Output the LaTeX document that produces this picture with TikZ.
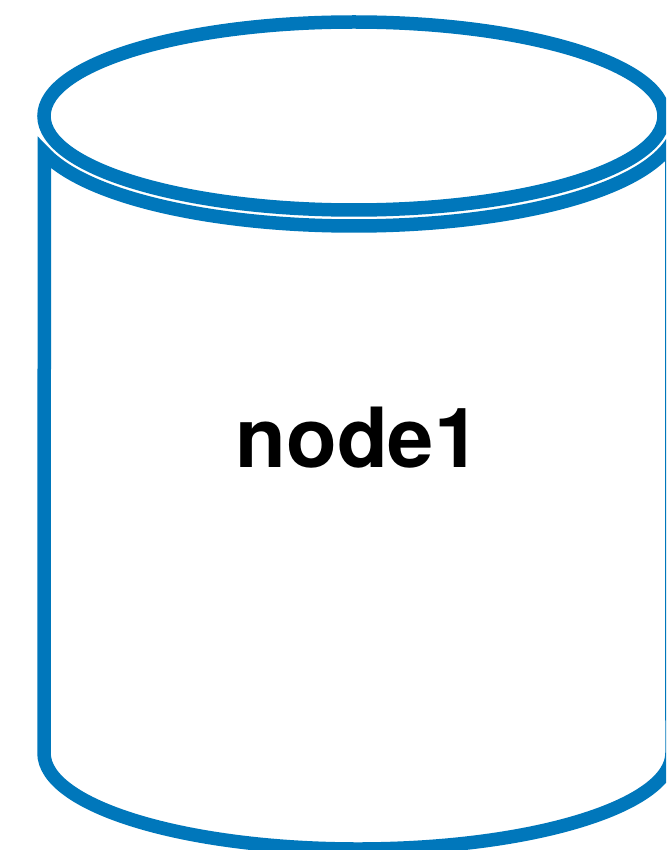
\documentclass[tikz,border=0pt]{standalone}
\usepackage{fontspec}
\setmainfont{TeX Gyre Heros}
\definecolor{dbblue}{RGB}{0,119,187}
\begin{document}
\begin{tikzpicture}[x=1pt,y=-1pt,
  shapeline/.style={draw=dbblue, fill=white, line width=13.5pt, line join=miter},
  labeltext/.style={font=\fontsize{83}{100}\selectfont\bfseries, text=black, inner sep=0pt, anchor=base},
  declare function={
    nn(\t)=sqrt(0.8836*cos(\t)*cos(\t)+9.61*sin(\t)*sin(\t));
    px(\t)=354+310*cos(\t)+15.04*cos(\t)/nn(\t);
    py(\t)=116+94*sin(\t)+49.6*sin(\t)/nn(\t);
  }]
\useasboundingbox (0,0) rectangle (666,850);
\clip (0,0) rectangle (666,850);
% body of the cylinder
\coordinate (bl) at (44,753);
\path[shapeline] plot[domain=11:164, samples=150, variable=\t] ({px(\t)},{py(\t)})
  -- (bl) arc[start angle=180, end angle=0, x radius=314, y radius=96] -- cycle;
% top lid
\coordinate (lid) at (354,116);
\path[shapeline] (lid) ellipse[x radius=310, y radius=94];
% label
\node[labeltext] (label) at (358,467.7) {node1};
\end{tikzpicture}
\end{document}
